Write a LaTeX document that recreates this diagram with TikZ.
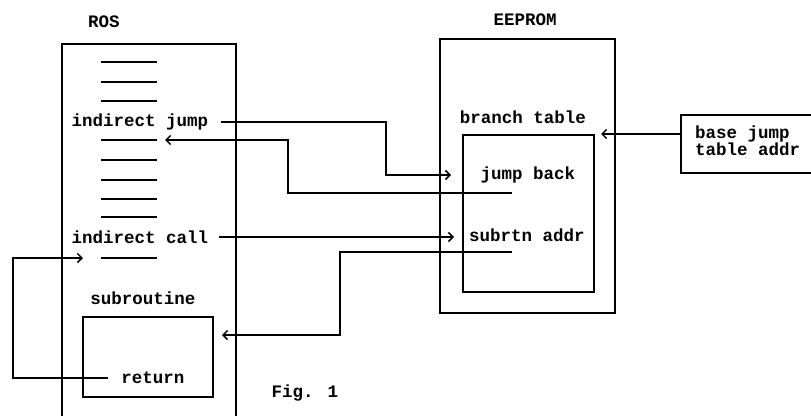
\documentclass[tikz,border=0pt]{standalone}
\usepackage{fontspec}
\setmainfont{Liberation Mono}
\usetikzlibrary{arrows.meta}

\begin{document}
\begin{tikzpicture}[x=1pt, y=-1pt, line width=2pt,
  font=\fontsize{17.5}{14}\selectfont\bfseries,
  lbl/.style={inner sep=0pt},
  box/.style={draw, inner sep=0pt},
  arr/.style={-{Straight Barb[length=4.5pt,width=9pt,line width=1.5pt]}}]
  \useasboundingbox (0,0) rectangle (811,415);

  % ROS 区（下边在图外）
  \node[lbl] (ros) at (104,22) {ROS};
  \node[box, minimum width=174, minimum height=400, anchor=north west] (rosbox) at (61,43) {};

  % 指令短线
  \foreach \y [count=\i] in {62,82,101,140,160,180,199,217,258}
    \draw (101,\y) coordinate (d\i) -- (157,\y) coordinate (e\i);

  \node[lbl] (ijump) at (140,122) {indirect jump};
  \node[lbl] (icall) at (140,237) {indirect call};
  \node[lbl] (subr) at (143,298) {subroutine};
  \node[box, minimum width=130, minimum height=80] (sub) at (148,357) {};
  \node[lbl] (ret) at (153,378) {return};

  % EEPROM 区
  \node[lbl] (eeprom) at (525,20) {EEPROM};
  \node[box, minimum width=175, minimum height=274] (eep) at (527.5,176) {};
  \node[lbl] (brtbl) at (523,117) {branch table};
  \node[box, minimum width=131, minimum height=157] (tbl) at (528.5,213.5) {};
  \node[lbl] (jback) at (528,175) {jump back};
  \node[lbl] (saddr) at (527,235) {subrtn addr};

  % 基址框（右边在图外）
  \node[box, minimum width=150, minimum height=58, anchor=north west] (basebox) at (680,114) {};
  \node[lbl, anchor=west, align=left] (base) at (694,141) {base jump\\table addr};

  \node[lbl] (fig) at (305,393) {Fig. 1};

  % 连线
  \coordinate (jbret) at (512,193);
  \coordinate (saret) at (512,252);

  \draw[arr] ([xshift=12]ijump.east) -| (386,175) -- ([xshift=-11]tbl.west |- jback.west);
  \draw[arr] (jbret) -- (288,193) |- ([xshift=8]e4);
  \draw[arr] ([xshift=10]icall.east) -- ([xshift=-8]tbl.west |- icall.east);
  \draw[arr] (saret) -- (340,252) |- (222,335);
  \draw[arr] (basebox.west |- tbl.north east) -- ([xshift=6]tbl.north east);
  \draw[arr] ([xshift=-12]ret.west) -- (13,378) |- ([xshift=-18]d9);
\end{tikzpicture}
\end{document}
